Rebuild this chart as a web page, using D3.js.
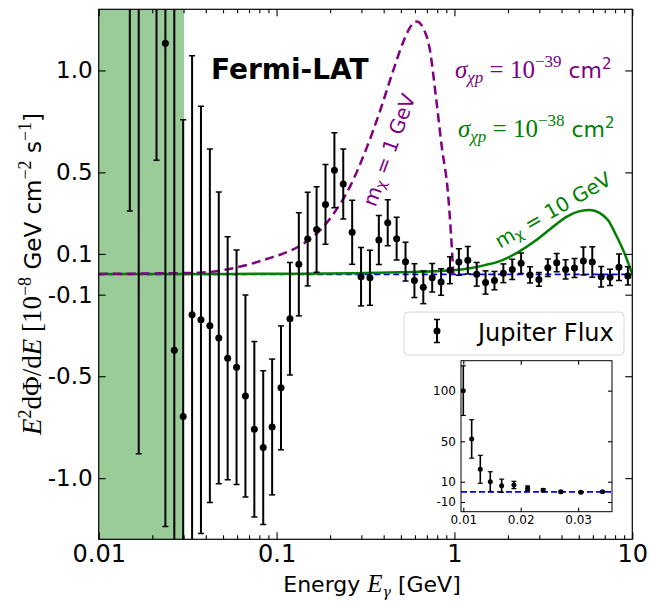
<!DOCTYPE html>
<html><head><meta charset="utf-8">
<script src="https://cdn.jsdelivr.net/npm/d3@7"></script>
<style>body{margin:0;background:#fff} svg{display:block}</style>
</head><body>
<svg id="chart" width="649" height="602"></svg>
<script>
// ---------- data ----------
const energy = [0.01496, 0.01679, 0.02114, 0.02371, 0.02661, 0.02985, 0.0335, 0.03758, 0.04217, 0.04732,
  0.05309, 0.05957, 0.06683, 0.07499, 0.08414, 0.09441, 0.1059, 0.1189, 0.1334, 0.1496,
  0.1679, 0.1884, 0.2114, 0.2371, 0.2661, 0.2985, 0.335, 0.3758, 0.4217, 0.4732,
  0.5309, 0.5957, 0.6683, 0.7499, 0.8414, 0.9441, 1.059, 1.189, 1.334, 1.496,
  1.679, 1.884, 2.114, 2.371, 2.661, 2.985, 3.35, 3.758, 4.217, 4.732,
  5.309, 5.957, 6.683, 7.499, 8.414, 9.441];
const flux = [1.60, 1.50, 1.90, 1.133, -0.373, -0.697, -0.198, -0.223, -0.252, -0.312,
  -0.412, -0.456, -0.597, -0.760, -0.850, -0.749, -0.557, -0.218, 0.049, 0.173,
  0.220, 0.343, 0.511, 0.443, 0.206, -0.012, -0.017, 0.168, 0.253, 0.175,
  0.062, -0.031, -0.064, -0.017, -0.038, 0.020, 0.060, 0.069, 0.000, -0.040,
  -0.031, 0.005, 0.024, 0.054, -0.003, -0.025, 0.032, 0.057, 0.024, 0.031,
  0.065, 0.060, -0.012, -0.015, 0.034, -0.008];
const fluxErr = [1.29, 2.38, 1.34, 2.37, 1.90, 1.455, 1.27, 1.048, 0.867, 0.716,
  0.596, 0.575, 0.495, 0.430, 0.377, 0.333, 0.304, 0.276, 0.253, 0.230,
  0.210, 0.196, 0.184, 0.172, 0.157, 0.143, 0.135, 0.120, 0.113, 0.105,
  0.095, 0.083, 0.080, 0.070, 0.065, 0.066, 0.065, 0.067, 0.058, 0.057,
  0.045, 0.046, 0.050, 0.050, 0.040, 0.034, 0.043, 0.045, 0.047, 0.047,
  0.069, 0.075, 0.050, 0.040, 0.065, 0.045];

// m_chi = 1 GeV, sigma = 1e-39 cm^2 (purple dashed)
const curve1Energy = [0.01, 0.01943, 0.0371, 0.05685, 0.088, 0.1353, 0.168, 0.2084, 0.2586, 0.3209,
  0.3813, 0.4529, 0.5156, 0.5622, 0.6131, 0.6651, 0.7281, 0.787, 0.8505, 0.9193, 0.9557, 0.9858];
const curve1Flux = [0.002, 0.004, 0.008, 0.030, 0.075, 0.140, 0.200, 0.295, 0.430, 0.620,
  0.800, 1.000, 1.140, 1.210, 1.240, 1.210, 1.100, 0.870, 0.620, 0.400, 0.200, 0.0];

// m_chi = 10 GeV, sigma = 1e-38 cm^2 (green solid)
const curve10Energy = [0.01, 0.1353, 0.4941, 0.9808, 1.222, 1.484, 1.803, 2.245, 2.835, 3.487,
  4.29, 5.077, 5.776, 6.574, 7.293, 8.193, 8.969, 9.446, 10];
const curve10Flux = [0.001, 0.003, 0.010, 0.020, 0.030, 0.045, 0.065, 0.105, 0.163, 0.225,
  0.283, 0.310, 0.315, 0.300, 0.266, 0.184, 0.110, 0.060, 0.0];

// inset (low-energy points)
const insetEnergy = [0.0100, 0.01146, 0.01296, 0.01470, 0.01668, 0.01882, 0.02120, 0.02391, 0.02699, 0.03047, 0.03424];
const insetFlux = [100, 52.3, 22.3, 10.1, 6.1, 6.8, 3.6, 1.6, 0.0, -0.4, 0.2];
const insetErr = [24.5, 19, 13.8, 9.8, 6.5, 3.6, 2.3, 1.5, 1.0, 0.8, 0.8];

const xTicks = [0.01, 0.1, 1, 10];
const xTickLabels = ["0.01", "0.1", "1", "10"];
const yTicks = [1.0, 0.5, 0.1, -0.1, -0.5, -1.0];
const yTickLabels = ["1.0", "0.5", "0.1", "-0.1", "-0.5", "-1.0"];
const insetXTicks = [0.01, 0.02, 0.03];
const insetXTickLabels = ["0.01", "0.02", "0.03"];
const insetYTicks = [100, 50, 10, -10];
const insetYTickLabels = ["100", "50", "10", "-10"];
const bandEnergy = [0.01, 0.0302];

// ---------- setup ----------
const SANS = "DejaVu Sans";
const SERIF = "Liberation Serif";
const GREEK = "DejaVu Serif";
const svg = d3.select("#chart");
const L = 98.7, R = 632.3, T = 9.3, B = 539.3;
const x = d3.scaleLog().domain([0.01, 10]).range([L, R]);
const y = d3.scaleLinear().domain([-1.3, 1.3]).range([B, T]);

svg.append("defs").append("clipPath").attr("id", "plotclip")
  .append("rect").attr("x", L).attr("y", T).attr("width", R - L).attr("height", B - T);

const plot = svg.append("g").attr("clip-path", "url(#plotclip)");

// shaded band
plot.append("rect")
  .attr("x", x(bandEnergy[0])).attr("y", T)
  .attr("width", x(bandEnergy[1]) - x(bandEnergy[0])).attr("height", B - T)
  .attr("fill", "#99cc99");

// zero line (blue dashed)
plot.append("line")
  .attr("x1", L).attr("x2", R).attr("y1", y(0)).attr("y2", y(0))
  .attr("stroke", "blue").attr("stroke-width", 1.8).attr("stroke-dasharray", "6,3.5");

const line = d3.line().x(d => x(d[0])).y(d => y(d[1])).curve(d3.curveMonotoneX);

plot.append("path")
  .attr("d", line(curve10Energy.map((e, i) => [e, curve10Flux[i]])))
  .attr("fill", "none").attr("stroke", "green").attr("stroke-width", 2.5);

plot.append("path")
  .attr("d", line(curve1Energy.map((e, i) => [e, curve1Flux[i]])))
  .attr("fill", "none").attr("stroke", "purple").attr("stroke-width", 2.5)
  .attr("stroke-dasharray", "9,5");

// error bars
const pts = plot.append("g");
energy.forEach((e, i) => {
  const cx = x(e), lo = y(flux[i] - fluxErr[i]), hi = y(flux[i] + fluxErr[i]);
  const g = pts.append("g");
  g.append("line").attr("x1", cx).attr("x2", cx).attr("y1", lo).attr("y2", hi)
    .attr("stroke", "black").attr("stroke-width", 2);
  [lo, hi].forEach(yy => g.append("line").attr("x1", cx - 3).attr("x2", cx + 3)
    .attr("y1", yy).attr("y2", yy).attr("stroke", "black").attr("stroke-width", 1.5));
  g.append("circle").attr("cx", cx).attr("cy", y(flux[i])).attr("r", 3.5).attr("fill", "black");
});

// ---------- axes ----------
function styleAxis(g, size) {
  g.select(".domain").remove();
  g.selectAll(".tick line").attr("stroke", "black").attr("stroke-width", 1.1);
  g.selectAll(".tick text").attr("font-family", SANS).attr("font-size", size).attr("fill", "black");
}
const minorX = x.ticks().filter(v => !xTicks.some(t => Math.abs(t - v) / t < 1e-6));

const fmtX = d => xTickLabels[xTicks.indexOf(d)];
const fmtY = d => yTickLabels[yTicks.indexOf(d)];

svg.append("g").attr("transform", `translate(0,${B})`)
  .call(d3.axisBottom(x).tickValues(xTicks).tickFormat(fmtX).tickSize(-7).tickPadding(6))
  .call(g => styleAxis(g, 24));
svg.append("g").attr("transform", `translate(0,${B})`)
  .call(d3.axisBottom(x).tickValues(minorX).tickFormat("").tickSize(-4))
  .call(g => styleAxis(g, 0));
svg.append("g").attr("transform", `translate(0,${T})`)
  .call(d3.axisTop(x).tickValues(xTicks).tickFormat("").tickSize(-7))
  .call(g => styleAxis(g, 0));
svg.append("g").attr("transform", `translate(0,${T})`)
  .call(d3.axisTop(x).tickValues(minorX).tickFormat("").tickSize(-4))
  .call(g => styleAxis(g, 0));
svg.append("g").attr("transform", `translate(${L},0)`)
  .call(d3.axisLeft(y).tickValues(yTicks).tickFormat(fmtY).tickSize(-7).tickPadding(6))
  .call(g => styleAxis(g, 23));
svg.append("g").attr("transform", `translate(${R},0)`)
  .call(d3.axisRight(y).tickValues(yTicks).tickFormat("").tickSize(-7))
  .call(g => styleAxis(g, 0));

svg.append("rect").attr("x", L).attr("y", T).attr("width", R - L).attr("height", B - T)
  .attr("fill", "none").attr("stroke", "black").attr("stroke-width", 1.2);

// ---------- rich text helper ----------
function rich(sel, segs) {
  let cur = 0;
  segs.forEach(s => {
    const off = s.o || 0;
    sel.append("tspan").text(s.t)
      .attr("dy", off - cur)
      .attr("font-family", s.f || SANS)
      .attr("font-style", s.i ? "italic" : "normal")
      .attr("font-size", s.s);
    cur = off;
  });
}

// x axis title
rich(svg.append("text").attr("x", 372).attr("y", 592).attr("text-anchor", "middle").attr("fill", "black"), [
  { t: "Energy ", s: 22 },
  { t: "E", f: SERIF, i: true, s: 25 },
  { t: "γ", f: GREEK, i: true, s: 14, o: 5 },
  { t: " [GeV]", s: 22, o: 0 }
]);

// y axis title
rich(svg.append("text").attr("transform", "translate(41,274) rotate(-90)").attr("text-anchor", "middle").attr("fill", "black"), [
  { t: "E", f: SERIF, i: true, s: 27 },
  { t: "2", f: SERIF, s: 18, o: -10 },
  { t: "dΦ/d", f: SERIF, s: 27, o: 0 },
  { t: "E", f: SERIF, i: true, s: 27 },
  { t: " [10", f: SERIF, s: 27 },
  { t: "−8", f: SERIF, s: 18, o: -10 },
  { t: " GeV cm", s: 23, o: 0 },
  { t: "−2", f: SERIF, s: 18, o: -10 },
  { t: " s", s: 23, o: 0 },
  { t: "−1", f: SERIF, s: 18, o: -10 },
  { t: "]", s: 23, o: 0 }
]);

// Fermi-LAT
svg.append("text").attr("x", 211).attr("y", 79).attr("font-family", SANS).attr("font-weight", "bold")
  .attr("font-size", 28).attr("fill", "black").text("Fermi-LAT");

// cross-section annotations
function sigmaText(xp, yp, exp, color) {
  rich(svg.append("text").attr("x", xp).attr("y", yp).attr("fill", color), [
    { t: "σ", f: SERIF, i: true, s: 25 },
    { t: "χp", f: SERIF, i: true, s: 17, o: 5 },
    { t: " = 10", f: SERIF, s: 25, o: 0 },
    { t: exp, f: SERIF, s: 17, o: -11 },
    { t: " cm", s: 22, o: 0 },
    { t: "2", s: 15, o: -9 },
  ]);
}
sigmaText(455, 78, "−39", "purple");
sigmaText(458, 137, "−38", "green");

// mass labels
function massText(xp, yp, ang, label, color) {
  rich(svg.append("text").attr("transform", `translate(${xp},${yp}) rotate(${ang})`)
    .attr("text-anchor", "middle").attr("dominant-baseline", "central").attr("fill", color), [
    { t: "m", s: 20 },
    { t: "χ", s: 14, o: 4 },
    { t: " = " + label, s: 20, o: 0 }
  ]);
}
massText(389, 150, -70, "1 GeV", "purple");
massText(553, 210, -30, "10 GeV", "green");

// ---------- legend ----------
const lg = svg.append("g");
lg.append("rect").attr("x", 404).attr("y", 312).attr("width", 220).attr("height", 43).attr("rx", 4)
  .attr("fill", "white").attr("fill-opacity", 0.85).attr("stroke", "#d6d6d6").attr("stroke-width", 1);
lg.append("line").attr("x1", 437).attr("x2", 437).attr("y1", 319.5).attr("y2", 342.5)
  .attr("stroke", "black").attr("stroke-width", 2);
[319.5, 342.5].forEach(yy => lg.append("line").attr("x1", 434).attr("x2", 440).attr("y1", yy).attr("y2", yy)
  .attr("stroke", "black").attr("stroke-width", 1.5));
lg.append("circle").attr("cx", 437).attr("cy", 331).attr("r", 3.5).attr("fill", "black");
lg.append("text").attr("x", 478).attr("y", 341).attr("font-family", SANS).attr("font-size", 24)
  .attr("fill", "black").text("Jupiter Flux");

// ---------- inset ----------
const iL = 461, iR = 612, iT = 360.7, iB = 511.7;
const ix = d3.scaleLinear().domain([0.0096, 0.0359]).range([iL, iR]);
const iy = d3.scaleLinear().domain([-19.6, 129.6]).range([iB, iT]);
const ins = svg.append("g");
ins.append("rect").attr("x", iL).attr("y", iT).attr("width", iR - iL).attr("height", iB - iT).attr("fill", "white");
ins.append("line").attr("x1", iL).attr("x2", iR).attr("y1", iy(0)).attr("y2", iy(0))
  .attr("stroke", "blue").attr("stroke-width", 1.8).attr("stroke-dasharray", "6,3");
insetEnergy.forEach((e, i) => {
  const cx = ix(e), lo = iy(insetFlux[i] - insetErr[i]), hi = iy(insetFlux[i] + insetErr[i]);
  ins.append("line").attr("x1", cx).attr("x2", cx).attr("y1", lo).attr("y2", hi)
    .attr("stroke", "black").attr("stroke-width", 1.6);
  [lo, hi].forEach(yy => ins.append("line").attr("x1", cx - 2.5).attr("x2", cx + 2.5)
    .attr("y1", yy).attr("y2", yy).attr("stroke", "black").attr("stroke-width", 1.2));
  ins.append("circle").attr("cx", cx).attr("cy", iy(insetFlux[i])).attr("r", 2.5).attr("fill", "black");
});
const fmtIX = d => insetXTickLabels[insetXTicks.indexOf(d)];
const fmtIY = d => insetYTickLabels[insetYTicks.indexOf(d)];
ins.append("g").attr("transform", `translate(0,${iB})`)
  .call(d3.axisBottom(ix).tickValues(insetXTicks).tickFormat(fmtIX).tickSize(-4).tickPadding(4))
  .call(g => styleAxis(g, 12));
ins.append("g").attr("transform", `translate(0,${iT})`)
  .call(d3.axisTop(ix).tickValues(insetXTicks).tickFormat("").tickSize(-4))
  .call(g => styleAxis(g, 0));
ins.append("g").attr("transform", `translate(${iL},0)`)
  .call(d3.axisLeft(iy).tickValues(insetYTicks).tickFormat(fmtIY).tickSize(-4).tickPadding(5))
  .call(g => styleAxis(g, 12));
ins.append("g").attr("transform", `translate(${iR},0)`)
  .call(d3.axisRight(iy).tickValues(insetYTicks).tickFormat("").tickSize(-4))
  .call(g => styleAxis(g, 0));
ins.append("rect").attr("x", iL).attr("y", iT).attr("width", iR - iL).attr("height", iB - iT)
  .attr("fill", "none").attr("stroke", "black").attr("stroke-width", 1);
</script>
</body></html>
